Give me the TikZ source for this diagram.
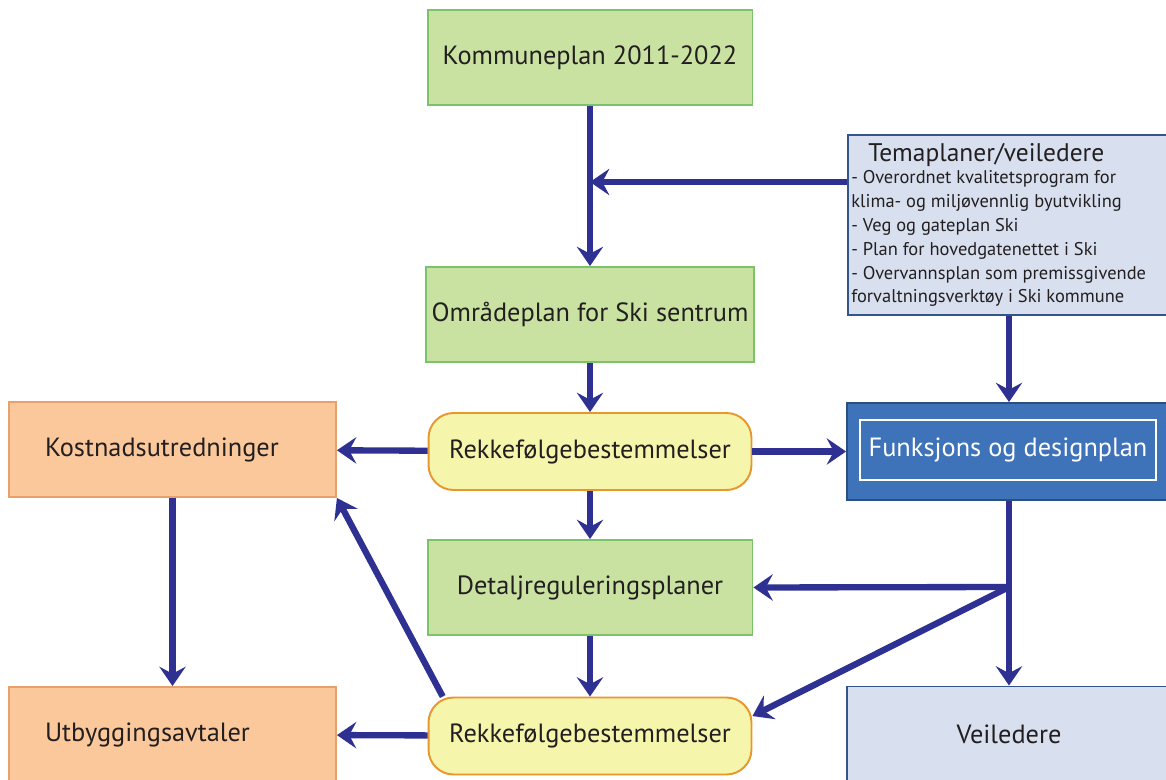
\documentclass[tikz,border=0pt]{standalone}
\usepackage{fontspec}
\setmainfont{PT Sans}
\usetikzlibrary{arrows.meta}
\definecolor{arrowblue}{HTML}{2E3192}
\definecolor{textdark}{HTML}{231F20}
\definecolor{greenfill}{HTML}{C9E2A1}
\definecolor{greenline}{HTML}{7AC36A}
\definecolor{yellowfill}{HTML}{F6F5AC}
\definecolor{yellowline}{HTML}{E8962E}
\definecolor{orangefill}{HTML}{FBC89B}
\definecolor{orangeline}{HTML}{E9A06B}
\definecolor{bluefill}{HTML}{D8E0F0}
\definecolor{blueline}{HTML}{34558A}
\definecolor{darkfill}{HTML}{3E73B9}
\definecolor{darkline}{HTML}{2A4F80}

\begin{document}
\begin{tikzpicture}[x=0.02cm, y=-0.02cm,
    box/.style={draw, line width=1.1pt, minimum width=6.5cm, minimum height=1.9cm,
        font=\fontsize{15}{18}\selectfont, text=textdark},
    plan/.style={box, fill=greenfill, draw=greenline},
    rule/.style={box, rounded corners=0.5cm, fill=yellowfill, draw=yellowline,
        minimum width=6.46cm, minimum height=1.54cm},
    cost/.style={box, fill=orangefill, draw=orangeline, align=left,
        text width=5.1cm, inner xsep=0.72cm},
    guide/.style={box, fill=bluefill, draw=blueline},
    arr/.style={-{Stealth[length=11pt, width=15pt, inset=4pt]}, line width=3.6pt,
        draw=arrowblue}]
    \path[use as bounding box, clip] (0,0) rectangle (1166,780);

    \node[plan] (komm) at (590,57.5) {Kommuneplan 2011-2022};
    \node[plan] (omr) at (590,314.5) {Områdeplan for Ski sentrum};
    \node[rule] (rek1) at (590,451.5) {Rekkefølgebestemmelser};
    \node[plan] (det) at (590,587.5) {Detaljreguleringsplaner};
    \node[rule] (rek2) at (590,736) {Rekkefølgebestemmelser};
    \node[cost] (kost) at (172.5,449.5) {Kostnadsutredninger};
    \node[cost] (utb) at (172.5,734.5) {Utbyggingsavtaler};

    \node[guide, minimum width=6.46cm, minimum height=3.6cm] (tema) at (1009,225) {};
    \node[anchor=base west, inner sep=0, font=\fontsize{14.5}{17}\selectfont,
        text=textdark] (tematitle) at (868,162) {Temaplaner/veiledere};
    \node[anchor=north west, inner sep=0, align=left, text=textdark,
        font=\fontsize{10.5}{13.6}\selectfont] (temalist) at (851,170)
        {- Overordnet kvalitetsprogram for\\
         klima- og miljøvennlig byutvikling\\
         - Veg og gateplan Ski\\
         - Plan for hovedgatenettet i Ski\\
         - Overvannsplan som premissgivende\\
         forvaltningsverktøy i Ski kommune};

    \node[box, fill=darkfill, draw=darkline, minimum width=6.48cm, minimum height=1.94cm]
        (funk) at (1009,451.5) {};
    \node[draw=white, line width=1.3pt, minimum width=5.92cm, minimum height=1.2cm,
        text=white, font=\fontsize{15}{18}\selectfont] (funktext) at (1008,450)
        {Funksjons og designplan};
    \node[guide] (veil) at (1009,734) {Veiledere};

    \coordinate (j1) at (590,182);
    \coordinate (j2) at (1009,587);

    \draw[arr] (komm) -- (omr);
    \draw[arr] (tema.west |- j1) -- (j1);
    \draw[arr] (omr) -- (rek1);
    \draw[arr] (rek1) -- (det);
    \draw[arr] (det) -- (rek2);
    \draw[arr] (rek1) -- (kost);
    \draw[arr] (rek1) -- (funk);
    \draw[arr] (tema) -- (funk);
    \draw[arr] (funk) -- (veil);
    \draw[arr] (j2) -- (det.east);
    \draw[arr] (j2) -- (rek2.7);
    \draw[arr] (kost) -- (utb);
    \draw[arr] (rek2.165) -- (kost.south east);
    \draw[arr] (rek2) -- (utb);
\end{tikzpicture}
\end{document}
